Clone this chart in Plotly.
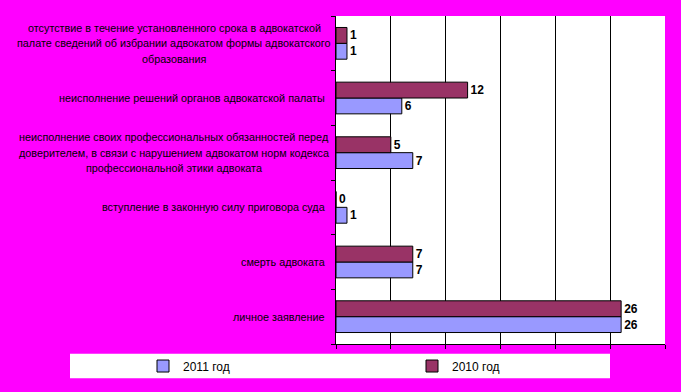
import plotly.graph_objects as go

categories = [
    "отсутствие в течение установленного срока в адвокатской<br>палате сведений об избрании адвокатом формы адвокатского<br>образования",
    "неисполнение решений органов адвокатской палаты",
    "неисполнение своих профессиональных обязанностей перед<br>доверителем, в связи с нарушением адвокатом норм кодекса<br>профессиональной этики адвоката",
    "вступление в законную силу приговора суда",
    "смерть адвоката",
    "личное заявление",
]
values_2011 = [1, 6, 7, 1, 7, 26]
values_2010 = [1, 12, 5, 0, 7, 26]
series_names = ["2011 год", "2010 год"]
x_ticks = [0, 5, 10, 15, 20, 25, 30]

W, H = 681, 392
L, R, T, B = 336, 16, 16, 41
PW, PH = W - L - R, H - T - B

def px_x(p):
    return (p - L) / PW

def px_y(p):
    return (H - B - p) / PH

label_font = dict(family="Arial, Liberation Sans", size=12, color="black", weight="bold")
cat_font = dict(family="Arial, Liberation Sans", size=10.8, color="black")

fig = go.Figure()
fig.add_trace(go.Bar(
    y=categories, x=values_2011, orientation="h", name=series_names[0],
    marker=dict(color="#9999FF", line=dict(color="black", width=1)),
    text=[str(v) for v in values_2011], textposition="outside",
    textfont=label_font, cliponaxis=False,
))
fig.add_trace(go.Bar(
    y=categories, x=values_2010, orientation="h", name=series_names[1],
    marker=dict(color="#993366", line=dict(color="black", width=1)),
    text=[str(v) for v in values_2010], textposition="outside",
    textfont=label_font, cliponaxis=False,
))

# category labels
annotations = []
center_px = 174
for cat in categories:
    lines = cat.split("<br>")
    n = len(lines)
    if n == 1:
        annotations.append(dict(
            x=0, xref="paper", y=cat, yref="y", text=cat, showarrow=False,
            xanchor="right", yanchor="middle", xshift=-9, font=cat_font,
        ))
    else:
        for i, ln in enumerate(lines):
            annotations.append(dict(
                x=px_x(center_px), xref="paper", y=cat, yref="y", text=ln,
                showarrow=False, xanchor="center", yanchor="middle",
                yshift=((n - 1) / 2 - i) * 15.5, font=cat_font,
            ))

fig.update_layout(
    width=W, height=H,
    margin=dict(l=L, r=R, t=T, b=B, pad=0),
    paper_bgcolor="#FF00FF",
    plot_bgcolor="white",
    barmode="group",
    bargap=0.42,
    bargroupgap=0,
    font=dict(family="Arial, Liberation Sans", size=12, color="black"),
    xaxis=dict(
        range=[0, 30], tickvals=x_ticks, showticklabels=False,
        showgrid=True, gridcolor="black", gridwidth=1,
        ticks="outside", ticklen=4, tickcolor="black",
        showline=True, linecolor="black", linewidth=1, zeroline=False,
    ),
    yaxis=dict(
        categoryorder="array", categoryarray=categories[::-1],
        showticklabels=False, ticks="outside", tickson="boundaries",
        ticklen=4, tickcolor="black",
        showline=True, linecolor="black", linewidth=1, showgrid=False,
    ),
    showlegend=True,
    legend=dict(
        orientation="h", x=px_x(168), y=px_y(373.5), xanchor="left", yanchor="middle",
        bgcolor="rgba(0,0,0,0)", entrywidth=224, entrywidthmode="pixels",
        font=dict(family="Arial, Liberation Sans", size=12, color="black"),
        traceorder="normal",
    ),
    shapes=[dict(
        type="rect", xref="paper", yref="paper",
        x0=px_x(70), x1=px_x(610), y0=px_y(386), y1=px_y(361),
        fillcolor="white", line=dict(width=0), layer="below",
    )],
    annotations=annotations,
)

fig.write_html(
    "out.html",
    config={"displayModeBar": False},
    post_script="document.body.style.margin='0';document.body.style.background='#FF00FF';",
)
